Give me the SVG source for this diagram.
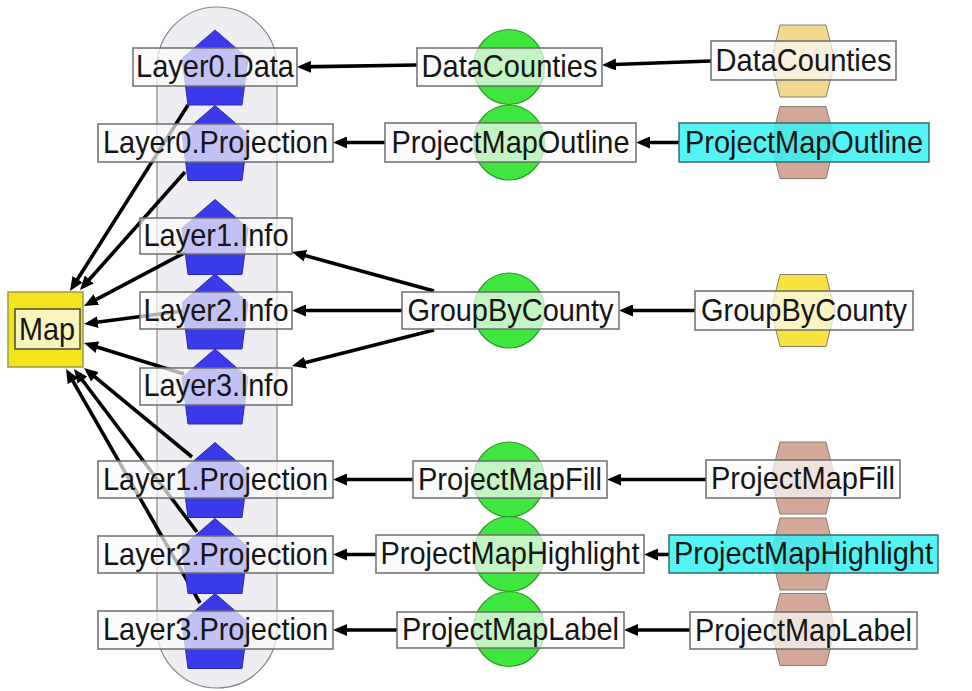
<svg xmlns="http://www.w3.org/2000/svg" width="972" height="691" viewBox="0 0 972 691">
<style>
.cl{fill:#eeeef2;stroke:#858585;stroke-width:1.2}
.pent{fill:#3a3aea;stroke:#2a2ab0;stroke-width:1}
.circ{fill:#3ee63e;stroke:#2a9a2a;stroke-width:1.2}
.hex{stroke:#8c7c6c;stroke-width:1}
.tan{fill:#f0d88e}
.rose{fill:#d4a898}
.yel{fill:#f8e23e}
.lbl{fill:#fbfbfb;fill-opacity:0.7;stroke:#6e6e6e;stroke-width:1.5}
.cyan{fill:#36f2f2;fill-opacity:0.85;stroke:#3a6a6a;stroke-width:1.5}
.t{font-family:"Liberation Sans",Arial,sans-serif;font-size:31.5px;text-anchor:middle;fill:#151515}
.e{stroke:#000;stroke-width:3.6;fill:none;marker-end:url(#ah)}
</style>
<defs>
<marker id="ah" markerWidth="15" markerHeight="12" refX="9" refY="6" orient="auto" markerUnits="userSpaceOnUse"><path d="M0,0 L14,6 L0,12 z" fill="#000"/></marker>
<polygon id="pent" points="0,-37.5 33,-9 27,37.5 -27,37.5 -33,-9"/>
<polygon id="hex" points="-23,-36 23,-36 32,0 23,36 -23,36 -32,0"/>
</defs>
<rect width="972" height="691" fill="#ffffff"/>
<g id="cluster"><rect class="cl" x="157" y="7" width="120" height="681" rx="60" ry="60"/></g>
<g id="connectors">
<line class="e" x1="711" y1="61" x2="607" y2="64.8"/>
<line class="e" x1="679" y1="142.5" x2="641" y2="142.5"/>
<line class="e" x1="695" y1="310.5" x2="624" y2="310.5"/>
<line class="e" x1="706" y1="479.5" x2="612" y2="479.5"/>
<line class="e" x1="669" y1="554.5" x2="649" y2="554.5"/>
<line class="e" x1="690" y1="630" x2="629" y2="630"/>
<line class="e" x1="417" y1="65" x2="302" y2="66.9"/>
<line class="e" x1="385" y1="142.5" x2="338" y2="142.5"/>
<line class="e" x1="434" y1="291" x2="296.8" y2="253.3"/>
<line class="e" x1="402" y1="310.5" x2="297" y2="310.5"/>
<line class="e" x1="434" y1="330" x2="296.8" y2="364.8"/>
<line class="e" x1="413" y1="479.5" x2="338" y2="479.5"/>
<line class="e" x1="376" y1="554.5" x2="338" y2="554.5"/>
<line class="e" x1="397" y1="630" x2="338" y2="630"/>
<line class="e" x1="188" y1="105" x2="72.7" y2="286.8"/>
<line class="e" x1="185" y1="172" x2="83.3" y2="286.3"/>
<line class="e" x1="186" y1="252" x2="88.4" y2="303.7"/>
<line class="e" x1="183" y1="311" x2="89" y2="323.3"/>
<line class="e" x1="184" y1="374" x2="88.8" y2="344.5"/>
<line class="e" x1="192" y1="457" x2="87.9" y2="371.2"/>
<line class="e" x1="197" y1="532" x2="77" y2="373"/>
<line class="e" x1="200" y1="603" x2="68.5" y2="373.4"/>
</g>
<g id="Map">
<rect x="8" y="292" width="75" height="75" fill="#f4e41e" stroke="#9a9a4a" stroke-width="1.5"/>
<rect class="lbl" x="15" y="309" width="65" height="40" style="stroke:#4a4a3a"/>
<text class="t" x="47" y="340" textLength="56" lengthAdjust="spacingAndGlyphs">Map</text>
</g>
<g id="Layer0.Data"><use href="#pent" class="pent" x="215" y="67.5"/><rect class="lbl" x="133" y="48" width="164" height="38"/><text class="t" x="215" y="77" textLength="158" lengthAdjust="spacingAndGlyphs">Layer0.Data</text></g>
<g id="Layer0.Projection"><use href="#pent" class="pent" x="215" y="143"/><rect class="lbl" x="98" y="124" width="235" height="38"/><text class="t" x="215.5" y="153" textLength="225" lengthAdjust="spacingAndGlyphs">Layer0.Projection</text></g>
<g id="Layer1.Info"><use href="#pent" class="pent" x="215" y="237"/><rect class="lbl" x="140" y="218" width="152" height="36"/><text class="t" x="216" y="246" textLength="145" lengthAdjust="spacingAndGlyphs">Layer1.Info</text></g>
<g id="Layer2.Info"><use href="#pent" class="pent" x="215" y="311.5"/><rect class="lbl" x="140" y="292" width="152" height="37"/><text class="t" x="216" y="320.5" textLength="145" lengthAdjust="spacingAndGlyphs">Layer2.Info</text></g>
<g id="Layer3.Info"><use href="#pent" class="pent" x="215" y="386.5"/><rect class="lbl" x="140" y="368" width="152" height="37"/><text class="t" x="216" y="396" textLength="145" lengthAdjust="spacingAndGlyphs">Layer3.Info</text></g>
<g id="Layer1.Projection"><use href="#pent" class="pent" x="215" y="480"/><rect class="lbl" x="98" y="461" width="235" height="37"/><text class="t" x="215.5" y="490" textLength="225" lengthAdjust="spacingAndGlyphs">Layer1.Projection</text></g>
<g id="Layer2.Projection"><use href="#pent" class="pent" x="215" y="556"/><rect class="lbl" x="98" y="536" width="235" height="37"/><text class="t" x="215.5" y="565" textLength="225" lengthAdjust="spacingAndGlyphs">Layer2.Projection</text></g>
<g id="Layer3.Projection"><use href="#pent" class="pent" x="215" y="631"/><rect class="lbl" x="98" y="611" width="235" height="38"/><text class="t" x="215.5" y="640" textLength="225" lengthAdjust="spacingAndGlyphs">Layer3.Projection</text></g>
<g id="DataCounties.op"><ellipse class="circ" cx="509" cy="67" rx="35.5" ry="37.5"/><rect class="lbl" x="417" y="48" width="185" height="38"/><text class="t" x="509.5" y="77" textLength="176" lengthAdjust="spacingAndGlyphs">DataCounties</text></g>
<g id="ProjectMapOutline.op"><ellipse class="circ" cx="509" cy="142.5" rx="35.5" ry="37.5"/><rect class="lbl" x="385" y="123" width="251" height="39"/><text class="t" x="510.5" y="152.5" textLength="238" lengthAdjust="spacingAndGlyphs">ProjectMapOutline</text></g>
<g id="GroupByCounty.op"><ellipse class="circ" cx="509" cy="310.5" rx="35.5" ry="37.5"/><rect class="lbl" x="402" y="292" width="217" height="37"/><text class="t" x="510.5" y="320.5" textLength="206" lengthAdjust="spacingAndGlyphs">GroupByCounty</text></g>
<g id="ProjectMapFill.op"><ellipse class="circ" cx="509" cy="479.5" rx="35.5" ry="37.5"/><rect class="lbl" x="413" y="461" width="194" height="37"/><text class="t" x="510" y="490" textLength="184" lengthAdjust="spacingAndGlyphs">ProjectMapFill</text></g>
<g id="ProjectMapHighlight.op"><ellipse class="circ" cx="509" cy="554" rx="35.5" ry="37.5"/><rect class="lbl" x="376" y="535" width="268" height="38"/><text class="t" x="510" y="564" textLength="259" lengthAdjust="spacingAndGlyphs">ProjectMapHighlight</text></g>
<g id="ProjectMapLabel.op"><ellipse class="circ" cx="509" cy="629" rx="35.5" ry="37.5"/><rect class="lbl" x="397" y="612" width="227" height="36"/><text class="t" x="510.5" y="640" textLength="217" lengthAdjust="spacingAndGlyphs">ProjectMapLabel</text></g>
<g id="DataCounties.src"><use href="#hex" class="hex tan" x="803" y="61"/><rect class="lbl" x="711" y="41" width="185" height="39"/><text class="t" x="803.5" y="70.5" textLength="176" lengthAdjust="spacingAndGlyphs">DataCounties</text></g>
<g id="ProjectMapOutline.src"><use href="#hex" class="hex rose" x="803" y="142.5"/><rect class="cyan" x="679" y="123" width="250" height="39"/><text class="t" x="804" y="152.5" textLength="238" lengthAdjust="spacingAndGlyphs">ProjectMapOutline</text></g>
<g id="GroupByCounty.src"><use href="#hex" class="hex yel" x="803" y="310.5"/><rect class="lbl" x="695" y="291" width="218" height="39"/><text class="t" x="804" y="320.5" textLength="206" lengthAdjust="spacingAndGlyphs">GroupByCounty</text></g>
<g id="ProjectMapFill.src"><use href="#hex" class="hex rose" x="803" y="478"/><rect class="lbl" x="706" y="460" width="194" height="38"/><text class="t" x="803" y="489" textLength="184" lengthAdjust="spacingAndGlyphs">ProjectMapFill</text></g>
<g id="ProjectMapHighlight.src"><use href="#hex" class="hex rose" x="803" y="554"/><rect class="cyan" x="669" y="535" width="269" height="38"/><text class="t" x="803.5" y="564" textLength="259" lengthAdjust="spacingAndGlyphs">ProjectMapHighlight</text></g>
<g id="ProjectMapLabel.src"><use href="#hex" class="hex rose" x="803" y="629.5"/><rect class="lbl" x="690" y="612" width="227" height="37"/><text class="t" x="803.5" y="640.5" textLength="217" lengthAdjust="spacingAndGlyphs">ProjectMapLabel</text></g>
</svg>
